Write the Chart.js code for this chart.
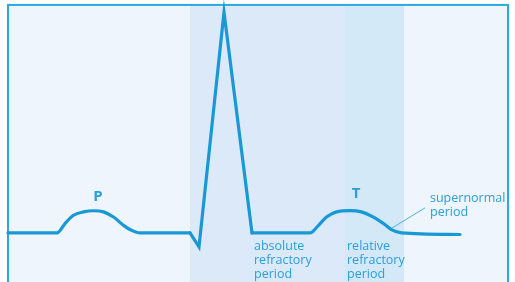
<!DOCTYPE html>
<html>
<head>
<meta charset="utf-8">
<script src="https://cdn.jsdelivr.net/npm/chart.js@4"></script>
<style>
  html, body { margin: 0; padding: 0; background: #ffffff; }
  #wrap { width: 515px; height: 282px; }
</style>
</head>
<body>
<div id="wrap"><canvas id="ecg" width="515" height="282"></canvas></div>
<script>
// time in ms, amplitude in mV
// baseline + P wave, up to the Q dip
var pTime = [0, 98, 114, 131, 151, 171, 191, 211, 231, 247, 264, 364];
var pVolt = [0, 0, 0.042, 0.079, 0.094, 0.099, 0.094, 0.071, 0.034, 0.012, 0, 0];

// QRS complex
var qrsTime = [364, 382, 432, 488];
var qrsVolt = [0, -0.062, 0.985, 0];

// ST segment, T wave and tail
var tTime = [488, 604, 621, 637, 657, 684, 707, 731, 751, 767, 787, 904];
var tVolt = [0, 0, 0.034, 0.071, 0.094, 0.1, 0.094, 0.071, 0.042, 0.015, 0, -0.007];

// shaded periods (ms)
var absoluteStart = 364, relativeStart = 674, relativeEnd = 792;

var lineBlue = '#1998d6';
var textBlue = '#2a9fdc';

function pts(xs, ys) {
    return xs.map(function (x, i) { return { x: x, y: ys[i] }; });
}

function seg(xs, ys, smooth) {
    return {
        data: pts(xs, ys),
        borderColor: lineBlue,
        borderWidth: 3.2,
        pointRadius: 0,
        fill: false,
        tension: 0,
        cubicInterpolationMode: smooth ? 'monotone' : 'default',
        borderCapStyle: 'round',
        borderJoinStyle: 'miter'
    };
}

var labels = [
    { lines: ['P'], x: 180, y: 0.161, align: 'center', bold: true },
    { lines: ['T'], x: 696, y: 0.174, align: 'center', bold: true },
    { lines: ['supernormal', 'period'], x: 844, y: 0.152, align: 'left' },
    { lines: ['absolute', 'refractory', 'period'], x: 492, y: -0.058, align: 'left' },
    { lines: ['relative', 'refractory', 'period'], x: 678, y: -0.058, align: 'left' }
];

var backdrop = {
    id: 'backdrop',
    beforeDatasetsDraw: function (chart) {
        var c = chart.ctx, xs = chart.scales.x, ys = chart.scales.y;
        var left = xs.getPixelForValue(0), right = xs.getPixelForValue(1000);
        var top = ys.getPixelForValue(1.018), bottom = chart.height + 5;
        var a = xs.getPixelForValue(absoluteStart);
        var b = xs.getPixelForValue(relativeStart);
        var e = xs.getPixelForValue(relativeEnd);
        c.save();
        c.fillStyle = '#eef5fd';
        c.fillRect(left, top, right - left, bottom - top);
        c.fillStyle = '#dce9f8';
        c.fillRect(a, top, b - a, bottom - top);
        c.fillStyle = '#d4e9f7';
        c.fillRect(b, top, e - b, bottom - top);
        c.strokeStyle = '#2aa8e1';
        c.lineWidth = 2;
        c.strokeRect(left, top, right - left, bottom - top);
        c.restore();
    },
    afterDatasetsDraw: function (chart) {
        var c = chart.ctx, xs = chart.scales.x, ys = chart.scales.y;
        c.save();
        // pointer for supernormal period
        c.strokeStyle = textBlue;
        c.lineWidth = 0.8;
        c.beginPath();
        c.moveTo(xs.getPixelForValue(768), ys.getPixelForValue(0.022));
        c.lineTo(xs.getPixelForValue(834), ys.getPixelForValue(0.112));
        c.stroke();

        c.fillStyle = textBlue;
        c.textBaseline = 'middle';
        labels.forEach(function (l) {
            c.font = (l.bold ? 'bold 15px' : '500 12.5px') + ' "Open Sans", sans-serif';
            c.textAlign = l.align;
            var px = xs.getPixelForValue(l.x), py = ys.getPixelForValue(l.y);
            l.lines.forEach(function (s, i) {
                c.fillText(s, px, py + i * 14);
            });
        });
        c.restore();
    }
};

new Chart(document.getElementById('ecg'), {
    type: 'line',
    data: {
        datasets: [
            seg(pTime, pVolt, true),
            seg(qrsTime, qrsVolt, false),
            seg(tTime, tVolt, true)
        ]
    },
    options: {
        responsive: false,
        animation: false,
        layout: { padding: 0 },
        scales: {
            x: { type: 'linear', min: -16, max: 1014, display: false },
            y: { type: 'linear', min: -0.219, max: 1.040, display: false }
        },
        plugins: {
            legend: { display: false },
            tooltip: { enabled: false }
        }
    },
    plugins: [backdrop]
});
</script>
</body>
</html>
